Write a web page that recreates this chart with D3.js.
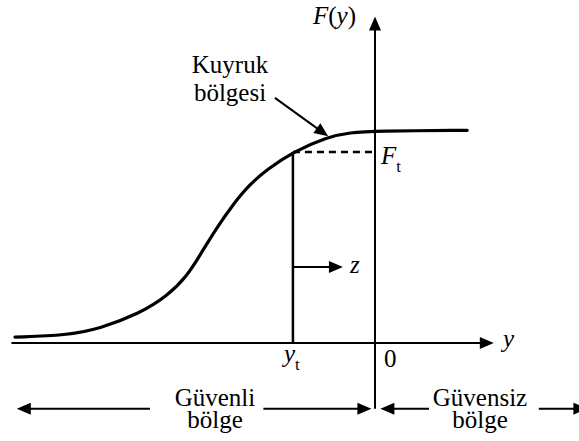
<!DOCTYPE html>
<html>
<head>
<meta charset="utf-8">
<script src="https://cdn.jsdelivr.net/npm/d3@7"></script>
<style>
  body { margin: 0; background: #fff; }
  svg text { font-family: "Liberation Serif"; }
</style>
</head>
<body>
<svg></svg>
<script>
// Chart size
const width = 579;
const height = 441;
const fontName = "Liberation Serif";

// Curve data: y values and F(y) values
const curveY = [-10, -8.56, -7.64, -6.53, -5.78, -5.22, -4.86, -4.39, -3.94, -3.47, -3.0, -2.28, -1.33, -0.69, 0, 2.56];
const curveF = [0.028, 0.036, 0.068, 0.140, 0.220, 0.315, 0.415, 0.545, 0.655, 0.750, 0.818, 0.901, 0.972, 0.993, 1.0, 1.003];

// Threshold and marks
const yT = -2.28;
const fT = 0.901;
const zLevel = 0.358;
const zEnd = -0.89;

// Region labels
const safeLabel = ["Güvenli", "bölge"];
const unsafeLabel = ["Güvensiz", "bölge"];
const tailLabel = ["Kuyruk", "bölgesi"];

const svg = d3.select("svg")
  .attr("width", width)
  .attr("height", height);

// Scales (data units -> pixels)
const xs = d3.scaleLinear().domain([-10, 0]).range([15, 375]);
const ys = d3.scaleLinear().domain([0, 1]).range([343, 131]);

const marks = svg.append("g");
const labels = svg.append("g").attr("font-family", fontName);

// Word labels
const wordLabel = (cx, py, lines, gap) => {
  lines.forEach((s, i) => {
    labels.append("text")
      .attr("x", cx)
      .attr("y", py + i * gap)
      .attr("text-anchor", "middle")
      .style("font-family", fontName)
      .style("font-size", "25px")
      .text(s);
  });
};

wordLabel(230, 73, tailLabel, 28);
wordLabel(215, 406, safeLabel, 22);
wordLabel(480, 406, unsafeLabel, 22);

// Math labels
const mathText = (px, py, parts) => {
  const t = labels.append("text").attr("x", px).attr("y", py)
    .style("font-family", fontName).style("font-size", "25px");
  parts.forEach(p => {
    const s = t.append("tspan").text(p.t);
    if (p.i) s.style("font-style", "italic");
    if (p.sub) s.style("font-size", "17px").attr("dy", p.sub);
  });
  return t;
};

mathText(313, 24, [{ t: "F", i: true }, { t: "(" }, { t: "y", i: true }, { t: ")" }]);
mathText(381, 164, [{ t: "F", i: true }, { t: "t", sub: 8 }]);
mathText(350, 273, [{ t: "z", i: true }]);
mathText(503, 347, [{ t: "y", i: true }]);
mathText(284, 362, [{ t: "y", i: true }, { t: "t", sub: 8 }]);
mathText(384, 367, [{ t: "0" }]);

// line segment, with an optional filled arrow head at its end
const seg = (x1, y1, x2, y2, w, arrow) => {
  const ax = xs(x1), ay = ys(y1), bx = xs(x2), by = ys(y2);
  const len = Math.hypot(bx - ax, by - ay);
  const ux = (bx - ax) / len, uy = (by - ay) / len;
  const L = 14, W = 6;
  const ex = arrow ? bx - ux * L * 0.7 : bx;
  const ey = arrow ? by - uy * L * 0.7 : by;
  const l = marks.append("line")
    .attr("x1", ax).attr("y1", ay)
    .attr("x2", ex).attr("y2", ey)
    .attr("stroke", "#000")
    .attr("stroke-width", w);
  if (arrow) {
    const p = [[bx, by],
      [bx - ux * L - uy * W, by - uy * L + ux * W],
      [bx - ux * L + uy * W, by - uy * L - ux * W]];
    marks.append("path")
      .attr("d", "M" + p.map(q => q.join(",")).join("L") + "Z")
      .attr("fill", "#000");
  }
  return l;
};

// Axes
seg(-10.1, 0, 3.3, 0, 2, true);
seg(0, -0.31, 0, 1.54, 2, true);

// Curve
const pts = curveY.map((v, i) => [v, curveF[i]]);
marks.append("path")
  .datum(pts)
  .attr("fill", "none")
  .attr("stroke", "#000")
  .attr("stroke-width", 3.2)
  .attr("stroke-linecap", "round")
  .attr("d", d3.line().x(d => xs(d[0])).y(d => ys(d[1])).curve(d3.curveBasis));

// Threshold lines
seg(yT, 0, yT, fT, 2.5, false);
seg(yT, fT, 0, fT, 2.5, false).attr("stroke-dasharray", "7,5");

// z arrow
seg(yT, zLevel, zEnd, zLevel, 2, true);

// Tail region pointer
seg(-2.78, 1.156, -1.3, 0.975, 2, true);

// Region arrows at the bottom
const bandF = -0.31;
seg(-6.25, bandF, -9.95, bandF, 2, true);
seg(-3.1, bandF, -0.1, bandF, 2, true);
seg(1.5, bandF, 0.15, bandF, 2, true);
seg(4.55, bandF, 5.9, bandF, 2, true);
</script>
</body>
</html>
